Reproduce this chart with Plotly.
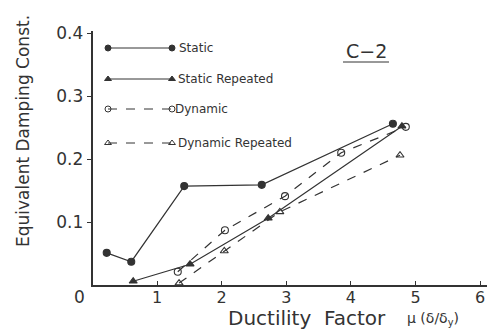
import plotly.graph_objects as go

# Ductility factor (x) and equivalent damping constant (y) for specimen C-2
static_x = [0.22, 0.60, 1.42, 2.62, 4.65]
static_y = [0.051, 0.037, 0.157, 0.159, 0.256]

static_rep_x = [0.63, 1.51, 2.72, 4.79]
static_rep_y = [0.006, 0.033, 0.106, 0.252]

dynamic_x = [1.32, 2.05, 2.98, 3.85, 4.85]
dynamic_y = [0.021, 0.087, 0.141, 0.210, 0.251]

dynamic_rep_x = [1.34, 2.04, 2.90, 4.76]
dynamic_rep_y = [0.003, 0.054, 0.116, 0.206]

series_names = ["Static", "Static Repeated", "Dynamic", "Dynamic Repeated"]
x_ticks = [1, 2, 3, 4, 5, 6]
y_ticks = [0.1, 0.2, 0.3, 0.4]

W, H = 489, 329
INK = "#333333"
FONT = "DejaVu Sans"

# plot-area placement in pixels
PX_L, PX_R, PX_T, PX_B = 92.5, 486.5, 30.5, 285.0
X_PER_UNIT = 64.6
Y_PER_UNIT = 630.0

styles = [
    dict(symbol="circle", dash="solid"),
    dict(symbol="triangle-up", dash="solid"),
    dict(symbol="circle-open", dash="dash"),
    dict(symbol="triangle-up-open", dash="dash"),
]
data = [
    (static_x, static_y),
    (static_rep_x, static_rep_y),
    (dynamic_x, dynamic_y),
    (dynamic_rep_x, dynamic_rep_y),
]

fig = go.Figure()

for (xs, ys), st, name in zip(data, styles, series_names):
    fig.add_trace(go.Scatter(
        x=xs, y=ys, mode="lines+markers", name=name, showlegend=False,
        line=dict(color=INK, width=1.2, dash=st["dash"]),
        marker=dict(symbol=st["symbol"], size=7, color=INK,
                    line=dict(color=INK, width=1.1)),
        xaxis="x", yaxis="y",
    ))

# hand-drawn style key: sample line with a marker at each end (pixel frame)
key_x0, key_x1 = 108, 172
key_rows = [48, 79, 109, 143]
key_text_x = [177, 176, 173, 176]
for st, name, ky, tx in zip(styles, series_names, key_rows, key_text_x):
    fig.add_trace(go.Scatter(
        x=[key_x0, key_x1], y=[ky, ky], mode="lines+markers", showlegend=False,
        line=dict(color=INK, width=1.0, dash=st["dash"]),
        marker=dict(symbol=st["symbol"], size=6, color=INK,
                    line=dict(color=INK, width=1.0)),
        xaxis="x2", yaxis="y2", hoverinfo="skip",
    ))
    fig.add_annotation(x=tx, y=ky, xref="x2", yref="y2", text=name,
                       showarrow=False, xanchor="left", yanchor="middle",
                       font=dict(family=FONT, size=12, color=INK))

# specimen label with underline
fig.add_annotation(x=366, y=51, xref="x2", yref="y2", text="C−2",
                   showarrow=False, font=dict(family=FONT, size=19, color=INK))
fig.add_shape(type="line", x0=343, x1=389, y0=62, y1=62, xref="x2", yref="y2",
              line=dict(color=INK, width=1))

# origin label
fig.add_annotation(x=79, y=297, xref="x2", yref="y2", text="0", showarrow=False,
                   font=dict(family=FONT, size=17, color=INK))

# axis titles
fig.add_annotation(x=226, y=318, xref="x2", yref="y2",
                   text="Ductility  Factor",
                   showarrow=False, xanchor="left", yanchor="middle",
                   font=dict(family=FONT, size=20, color=INK))
fig.add_annotation(x=405, y=319, xref="x2", yref="y2",
                   text="μ (δ/δ<sub>y</sub>)",
                   showarrow=False, xanchor="left", yanchor="middle",
                   font=dict(family=FONT, size=14, color=INK))
fig.add_annotation(x=23, y=131, xref="x2", yref="y2",
                   text="Equivalent Damping Const.", textangle=-90,
                   showarrow=False, font=dict(family=FONT, size=17, color=INK))

fig.update_layout(
    width=W, height=H, margin=dict(l=0, r=0, t=0, b=0),
    template="none", paper_bgcolor="white", plot_bgcolor="rgba(0,0,0,0)",
    showlegend=False,
    xaxis=dict(
        domain=[PX_L / W, PX_R / W],
        range=[0, (PX_R - PX_L) / X_PER_UNIT],
        tickvals=x_ticks, ticktext=[str(v) for v in x_ticks],
        ticks="inside", ticklen=4, tickcolor=INK, tickwidth=1,
        ticklabelstandoff=-3,
        showline=True, linecolor=INK, linewidth=1.5,
        showgrid=False, zeroline=False, automargin=False,
        tickfont=dict(family=FONT, size=16, color=INK),
        anchor="y",
    ),
    yaxis=dict(
        domain=[(H - PX_B) / H, (H - PX_T) / H],
        range=[0, (PX_B - PX_T) / Y_PER_UNIT],
        tickvals=y_ticks, ticktext=[f"{v:.1f}" for v in y_ticks],
        ticks="outside", ticklen=4, tickcolor=INK, tickwidth=1,
        showline=True, linecolor=INK, linewidth=1.5,
        showgrid=False, zeroline=False, automargin=False,
        tickfont=dict(family=FONT, size=17, color=INK),
        anchor="x",
    ),
    xaxis2=dict(domain=[0, 1], range=[0, W], visible=False, anchor="y2",
                fixedrange=True),
    yaxis2=dict(domain=[0, 1], range=[H, 0], visible=False, anchor="x2",
                fixedrange=True),
)

fig.write_html("out.html")
